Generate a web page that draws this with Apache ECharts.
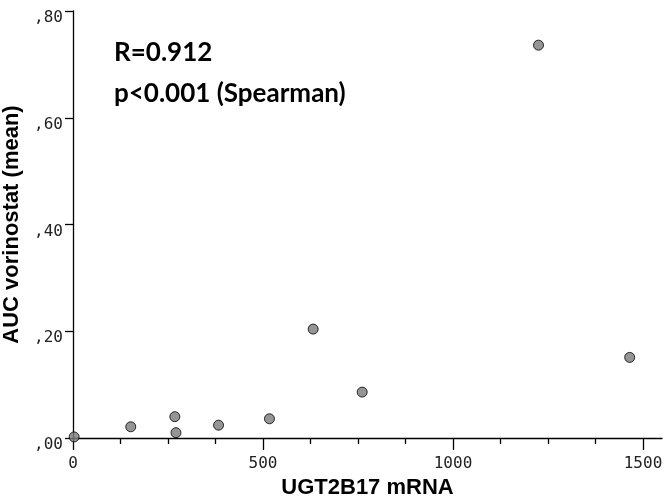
<!DOCTYPE html>
<html>
<head>
<meta charset="utf-8">
<script src="https://cdn.jsdelivr.net/npm/echarts@6/dist/echarts.min.js"></script>
<style>
  html, body { margin: 0; padding: 0; background: #fff; }
  #chart { width: 666px; height: 501px; }
</style>
</head>
<body>
<div id="chart"></div>
<script>
// UGT2B17 mRNA vs AUC vorinostat (mean)
var mrna = [3, 152, 268, 271, 383, 517, 632, 761, 1225, 1465];
var auc = [0.002, 0.021, 0.040, 0.010, 0.024, 0.036, 0.204, 0.086, 0.736, 0.151];
var xMajor = [0, 500, 1000, 1500];
var xMinor = [125, 250, 375, 625, 750, 875, 1125, 1250, 1375];
var statsText = ['R=0.912', 'p<0.001 (Spearman)'];

var points = mrna.map(function (v, i) { return [v, auc[i]]; });

var tickFont = { fontFamily: 'DejaVu Sans Mono', fontSize: 16, color: '#222' };
var nameFont = { fontFamily: 'Liberation Sans', fontWeight: 'bold', fontSize: 22, color: '#000' };

var chart = echarts.init(document.getElementById('chart'));
var option = {
    animation: false,
    title: {
        text: statsText.join('\n'),
        left: 109,
        top: 27,
        textStyle: {
            fontFamily: 'Lato',
            fontWeight: 'bold',
            fontSize: 26,
            lineHeight: 41,
            color: '#000'
        }
    },
    grid: { left: 73, right: 4, top: 11, bottom: 63, outerBoundsMode: 'none', containLabel: false },
    xAxis: [{
        type: 'value',
        min: 0,
        max: 1550,
        interval: 500,
        splitLine: { show: false },
        axisLine: { lineStyle: { color: '#000', width: 1.3 } },
        axisTick: { customValues: xMajor, length: 12, lineStyle: { color: '#000', width: 1.3 } },
        axisLabel: Object.assign({
            customValues: xMajor,
            margin: 18,
            formatter: function (v) { return String(v); }
        }, tickFont),
        name: 'UGT2B17 mRNA',
        nameLocation: 'middle',
        nameGap: 36,
        nameTextStyle: nameFont
    }, {
        type: 'value',
        min: 0,
        max: 1550,
        position: 'bottom',
        splitLine: { show: false },
        axisLine: { show: false },
        axisLabel: { show: false },
        axisTick: { customValues: xMinor, length: 6, lineStyle: { color: '#000', width: 1.3 } }
    }],
    yAxis: {
        type: 'value',
        min: 0,
        max: 0.8,
        interval: 0.2,
        splitLine: { show: false },
        axisLine: { show: true, lineStyle: { color: '#000', width: 1.3 } },
        axisTick: { show: true, length: 8, lineStyle: { color: '#000', width: 1.3 } },
        axisLabel: Object.assign({
            margin: 10,
            verticalAlign: 'top',
            padding: [-1, 0, 0, 0],
            formatter: function (v) { return v.toFixed(2).replace('0.', ','); }
        }, tickFont),
        name: 'AUC vorinostat (mean)',
        nameLocation: 'middle',
        nameGap: 49,
        nameTextStyle: nameFont
    },
    series: [{
        type: 'scatter',
        data: points,
        symbol: 'circle',
        symbolSize: 10,
        itemStyle: { color: '#7a7a7a', borderColor: '#000', borderWidth: 1 }
    }]
};
chart.setOption(option);
</script>
</body>
</html>
